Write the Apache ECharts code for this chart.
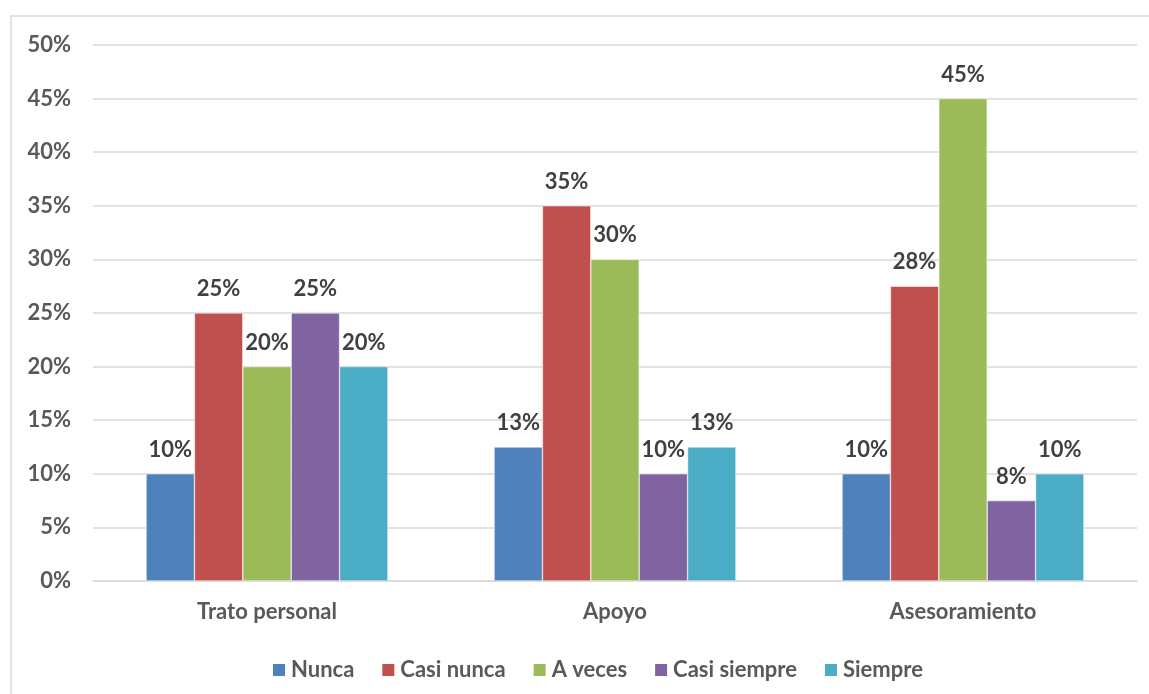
<!DOCTYPE html>
<html><head><meta charset="utf-8">
<script src="https://cdn.jsdelivr.net/npm/echarts@6/dist/echarts.min.js"></script>
<style>html,body{margin:0;padding:0;background:#fff}#c{width:1149px;height:694px}</style>
</head><body><div id="c"></div>
<script>
const categories = ['Trato personal', 'Apoyo', 'Asesoramiento'];
const seriesNames = ['Nunca', 'Casi nunca', 'A veces', 'Casi siempre', 'Siempre'];
const nunca = [10, 12.5, 10];
const casiNunca = [25, 35, 27.5];
const aVeces = [20, 30, 45];
const casiSiempre = [25, 10, 7.5];
const siempre = [20, 12.5, 10];
const colors = ['#4f81bd', '#c0504d', '#9bbb59', '#8064a2', '#4bacc6'];
const values = [nunca, casiNunca, aVeces, casiSiempre, siempre];
const FONT = 'Lato';
const FS = 22;
const chart = echarts.init(document.getElementById('c'));
chart.setOption({
  animation: false,
  textStyle: { fontFamily: FONT },
  graphic: [{ type: 'rect', shape: { x: 11, y: 16, width: 1200, height: 720 }, style: { fill: 'none', stroke: '#d9d9d9', lineWidth: 1.5 }, silent: true }],
  grid: { left: 93, right: 12, top: 45, bottom: 113 },
  legend: {
    left: 266, top: 654, itemWidth: 14, itemHeight: 14, itemGap: 26, icon: 'rect',
    textStyle: { fontFamily: FONT, fontSize: FS, fontWeight: 'bold', color: '#595959' },
    data: seriesNames
  },
  xAxis: {
    type: 'category', data: categories,
    axisLine: { lineStyle: { color: '#d9d9d9', width: 1.5 } }, axisTick: { show: false },
    axisLabel: { fontFamily: FONT, fontSize: FS, fontWeight: 'bold', color: '#595959', margin: 20 }
  },
  yAxis: {
    type: 'value', min: 0, max: 50, interval: 5,
    axisLine: { show: false }, axisTick: { show: false },
    splitLine: { lineStyle: { color: '#d9d9d9', width: 1.5 } },
    axisLabel: { formatter: '{value}%', fontFamily: FONT, fontSize: FS, fontWeight: 'bold', color: '#595959', margin: 22 }
  },
  series: values.map((v, i) => ({
    name: seriesNames[i], type: 'bar', data: v,
    barGap: '0%', barCategoryGap: '30.5%',
    itemStyle: { color: colors[i], borderColor: '#ffffff', borderWidth: 0.5 },
    label: {
      show: true, position: 'top', distance: 13,
      formatter: p => Math.round(p.value + 0.001) + '%',
      fontFamily: FONT, fontSize: FS, fontWeight: 'bold', color: '#404040'
    }
  }))
});
</script></body></html>
